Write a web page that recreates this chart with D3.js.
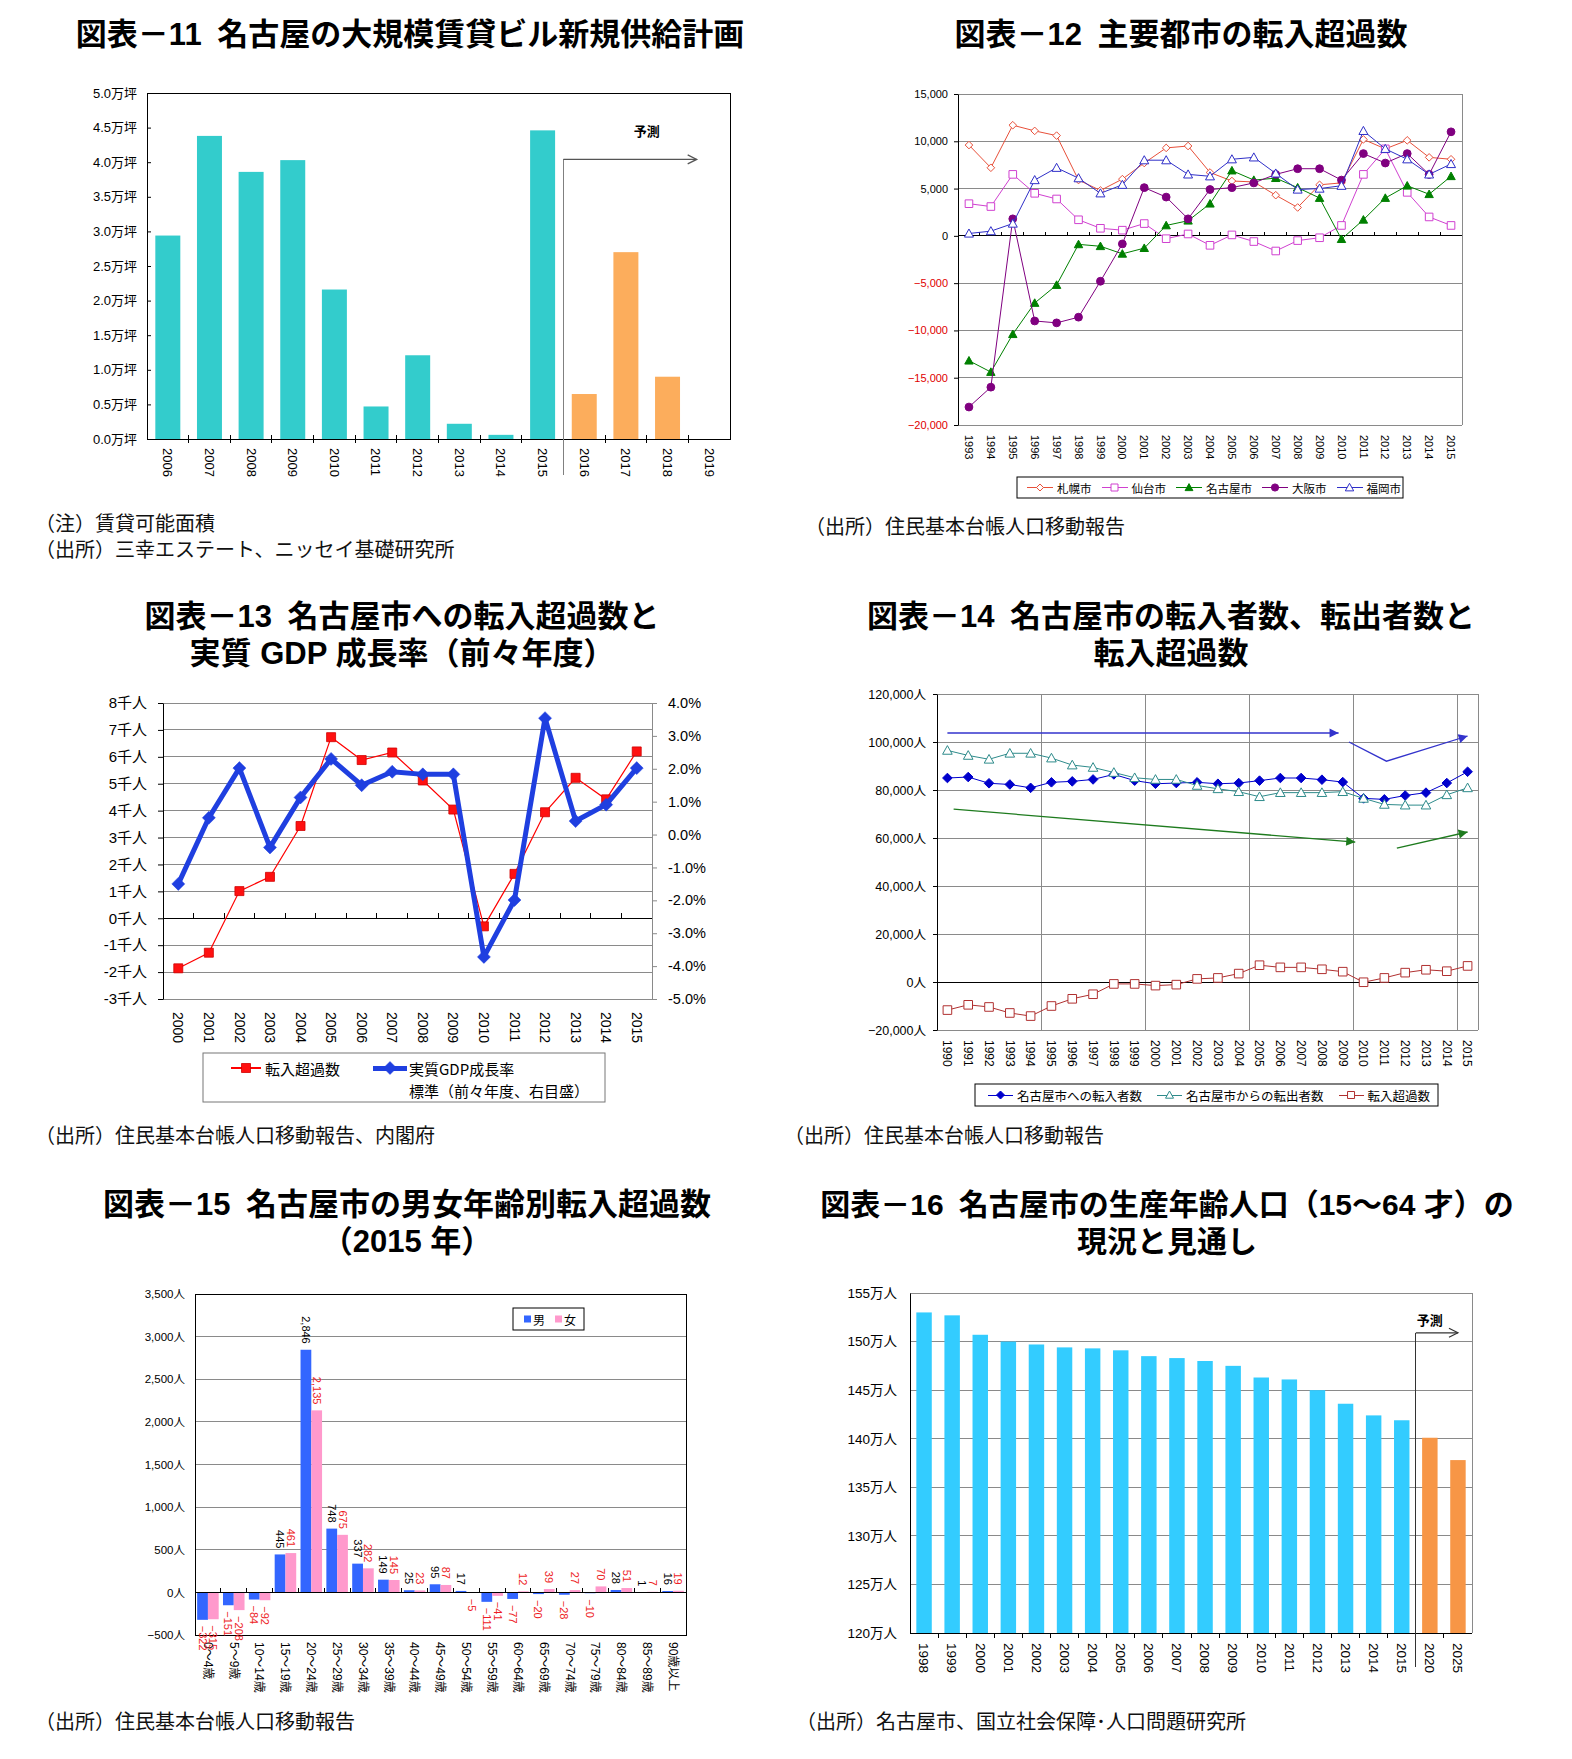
<!DOCTYPE html>
<html><head><meta charset="utf-8">
<script src="https://cdn.jsdelivr.net/npm/d3@7/dist/d3.min.js"></script>
<style>body{margin:0;background:#fff;}</style>
</head>
<body>
<svg id="chart" width="1572" height="1759" xmlns="http://www.w3.org/2000/svg"></svg>
<script>
// ================= DATA =================
// Chart 11
const c11Years = ["2006","2007","2008","2009","2010","2011","2012","2013","2014","2015","2016","2017","2018","2019"];
const c11Supply = [2.94,4.38,3.86,4.03,2.16,0.47,1.21,0.22,0.06,4.46,0.65,2.70,0.90,0];
const c11ForecastFrom = "2016";
const c11YTicks = [0,0.5,1,1.5,2,2.5,3,3.5,4,4.5,5];

// Chart 12
const c12Years = ["1993","1994","1995","1996","1997","1998","1999","2000","2001","2002","2003","2004","2005","2006","2007","2008","2009","2010","2011","2012","2013","2014","2015"];
const c12Cities = ["札幌市","仙台市","名古屋市","大阪市","福岡市"];
const c12Sapporo = [9600,7200,11700,11100,10600,5900,4800,6000,7700,9300,9500,6700,5800,5700,4300,3000,5400,5600,10200,9200,10100,8300,8100];
const c12Sendai  = [3400,3100,6500,4500,3900,1700,800,600,1300,-300,200,-1000,100,-600,-1600,-500,-200,1100,6500,9200,4600,2000,1100];
const c12Nagoya  = [-13200,-14400,-10400,-7100,-5200,-900,-1100,-1900,-1300,1100,1600,3400,6900,5900,6100,5100,4000,-350,1700,4000,5300,4400,6300];
const c12Osaka   = [-18100,-16000,1800,-9000,-9200,-8600,-4800,-850,5100,4100,1800,4900,5100,5600,6500,7100,7100,5900,8700,7700,8700,6500,11000];
const c12Fukuoka = [250,500,1300,5900,7200,6100,4500,5400,8000,8000,6500,6300,8100,8300,6600,4900,5000,5300,11100,9200,8100,6500,7600];
const c12YTicks = [-20000,-15000,-10000,-5000,0,5000,10000,15000];

// Chart 13
const c13Years = ["2000","2001","2002","2003","2004","2005","2006","2007","2008","2009","2010","2011","2012","2013","2014","2015"];
const c13Net = [-1.86,-1.28,1.01,1.54,3.43,6.73,5.88,6.16,5.12,4.04,-0.30,1.65,3.94,5.22,4.42,6.20];   // 千人
const c13Gdp = [-1.50,0.51,2.02,-0.39,1.13,2.30,1.50,1.91,1.83,1.83,-3.72,-1.99,3.54,0.41,0.91,2.02]; // %
const c13LeftTicks = [-3,-2,-1,0,1,2,3,4,5,6,7,8];
const c13RightTicks = [-5,-4,-3,-2,-1,0,1,2,3,4];
const c13Legend = ["転入超過数","実質GDP成長率","標準（前々年度、右目盛）"];

// Chart 14
const c14Years = ["1990","1991","1992","1993","1994","1995","1996","1997","1998","1999","2000","2001","2002","2003","2004","2005","2006","2007","2008","2009","2010","2011","2012","2013","2014","2015"];
const c14In  = [85000,85400,82800,82300,80900,83200,83600,84400,86500,83900,82600,82900,83200,82600,82900,83900,85000,85000,84300,83300,76500,76100,77700,78900,82900,87600];
const c14Out = [96500,94400,92800,95300,95300,93300,90400,89400,87300,85100,84400,84400,81900,80500,79300,77200,78900,78900,78900,79300,76500,74000,73700,73700,78000,80900];
const c14Net = [-11700,-9500,-10400,-12900,-14200,-10000,-7000,-5100,-800,-800,-1500,-1100,1300,1700,3500,7000,6100,6100,5300,4300,-100,1700,3900,5100,4500,6700];
const c14YTicks = [-20000,0,20000,40000,60000,80000,100000,120000];
const c14Legend = ["名古屋市への転入者数","名古屋市からの転出者数","転入超過数"];

// Chart 15
const c15Ages = ["0～4歳","5～9歳","10～14歳","15～19歳","20～24歳","25～29歳","30～34歳","35～39歳","40～44歳","45～49歳","50～54歳","55～59歳","60～64歳","65～69歳","70～74歳","75～79歳","80～84歳","85～89歳","90歳以上"];
const c15Male   = [-322,-151,-84,445,2846,748,337,149,25,95,17,-111,-77,-20,-28,-10,28,1,16];
const c15Female = [-315,-208,-92,461,2135,675,282,145,23,87,-5,-41,12,39,27,70,51,7,19];
const c15YTicks = [-500,0,500,1000,1500,2000,2500,3000,3500];
const c15Legend = ["男","女"];

// Chart 16
const c16Years = ["1998","1999","2000","2001","2002","2003","2004","2005","2006","2007","2008","2009","2010","2011","2012","2013","2014","2015","2020","2025"];
const c16Pop = [153.0,152.7,150.7,150.0,149.7,149.4,149.3,149.1,148.5,148.3,148.0,147.5,146.3,146.1,145.0,143.6,142.4,141.9,140.1,137.8];
const c16ForecastFrom = "2020";
const c16YTicks = [120,125,130,135,140,145,150,155];

// ================= DRAW =================
const svg = d3.select("#chart");
svg.append("rect").attr("width",1572).attr("height",1759).attr("fill","#fff");
const LAT = '"Liberation Sans", Arial, "Noto Sans CJK JP", sans-serif';
const JP = '"Noto Sans CJK JP", "Liberation Sans", sans-serif';
const GRID = "#8a8a8a";

function txt(g, x, y, s, o={}) {
  const t = g.append("text").attr("x",x).attr("y",y).text(s)
    .attr("font-family", o.ff||LAT).attr("font-size", o.fs||12)
    .attr("fill", o.fill||"#000").attr("text-anchor", o.anchor||"start")
    .attr("dominant-baseline", "central");
  if (o.weight) t.attr("font-weight", o.weight);
  if (o.rot) t.attr("transform", `rotate(${o.rot},${x},${y})`);
  return t;
}
function hline(g,x1,x2,y,stroke,w){ return g.append("line").attr("x1",x1).attr("x2",x2).attr("y1",y).attr("y2",y).attr("stroke",stroke).attr("stroke-width",w||1).attr("shape-rendering","crispEdges"); }
function vline(g,x,y1,y2,stroke,w){ return g.append("line").attr("x1",x).attr("x2",x).attr("y1",y1).attr("y2",y2).attr("stroke",stroke).attr("stroke-width",w||1).attr("shape-rendering","crispEdges"); }
function marker(g, type, x, y, r, stroke, fill, sw) {
  if (type==="circle") { g.append("circle").attr("cx",x).attr("cy",y).attr("r",r).attr("fill",fill).attr("stroke",stroke).attr("stroke-width",sw||1); return; }
  let p;
  if (type==="diamond") p = `M${x},${y-r}L${x+r},${y}L${x},${y+r}L${x-r},${y}Z`;
  else if (type==="square") p = `M${x-r},${y-r}h${2*r}v${2*r}h${-2*r}Z`;
  else p = `M${x},${y-r}L${x+r},${y+r*0.8}L${x-r},${y+r*0.8}Z`;
  g.append("path").attr("d",p).attr("fill",fill).attr("stroke",stroke).attr("stroke-width",sw||1);
}
function arrow(g, pts, color, w, head) {
  g.append("path").attr("d", d3.line()(pts)).attr("fill","none").attr("stroke",color).attr("stroke-width",w);
  const [x1,y1]=pts[pts.length-2], [x2,y2]=pts[pts.length-1];
  const a=Math.atan2(y2-y1,x2-x1), L=9, W=4.5;
  const p1=[x2-L*Math.cos(a)+W*Math.sin(a), y2-L*Math.sin(a)-W*Math.cos(a)];
  const p2=[x2-L*Math.cos(a)-W*Math.sin(a), y2-L*Math.sin(a)+W*Math.cos(a)];
  if (head==="fill") g.append("path").attr("d",`M${x2},${y2}L${p1}L${p2}Z`).attr("fill",color);
  else g.append("path").attr("d",`M${p1}L${x2},${y2}L${p2}`).attr("fill","none").attr("stroke",color).attr("stroke-width",w);
}
function styleAxis(a, fs, fill) {
  a.attr("font-family", LAT).attr("font-size", fs);
  a.selectAll("text").attr("font-family", LAT).attr("font-size", fs);
  if (fill) a.selectAll("text").attr("fill", fill);
  return a;
}
function rotXLabels(g, x, B, off, fs) {
  const ax = g.append("g").attr("transform",`translate(0,${B})`).call(d3.axisBottom(x).tickSize(0).tickPadding(0));
  ax.select(".domain").remove();
  styleAxis(ax, fs);
  ax.selectAll("text").attr("transform","rotate(90)").attr("x",off).attr("y",0).attr("dy","0.35em").attr("text-anchor","start");
  return ax;
}
function title(lines, cx, ys, fs) {
  lines.forEach((s,i)=>txt(svg,cx,ys[i],s,{fs:fs||31,weight:"bold",anchor:"middle",ff:LAT}));
}
function note(x, y, s) { txt(svg, x, y, s, {fs:20, ff:JP, fill:"#111"}); }

// ---------- Titles & notes ----------
const SP = "\u2002";
title(["図表－11"+SP+"名古屋の大規模賃貸ビル新規供給計画"], 410, [34]);
title(["図表－12"+SP+"主要都市の転入超過数"], 1181, [34]);
title(["図表－13"+SP+"名古屋市への転入超過数と","実質 GDP 成長率（前々年度）"], 402, [616,653]);
title(["図表－14"+SP+"名古屋市の転入者数、転出者数と","転入超過数"], 1171, [616,653]);
title(["図表－15"+SP+"名古屋市の男女年齢別転入超過数","（2015 年）"], 407, [1204,1241]);
title(["図表－16"+SP+"名古屋市の生産年齢人口（15～64 才）の","現況と見通し"], 1167, [1204,1241], 30);
note(35, 522, "（注）賃貸可能面積");
note(35, 548, "（出所）三幸エステート、ニッセイ基礎研究所");
note(805, 525, "（出所）住民基本台帳人口移動報告");
note(35, 1134, "（出所）住民基本台帳人口移動報告、内閣府");
note(784, 1134, "（出所）住民基本台帳人口移動報告");
note(35, 1720, "（出所）住民基本台帳人口移動報告");
note(796, 1720, "（出所）名古屋市、国立社会保障･人口問題研究所");

// ---------- Chart 11 ----------
(function(){
  const L=147,R=730,T=93,B=439;
  const g=svg.append("g");
  const x=d3.scaleBand().domain(c11Years).range([L,R]);
  const y=d3.scaleLinear().domain([0,5]).range([B,T]);
  const bw=x.bandwidth()*0.6;
  const fi=c11Years.indexOf(c11ForecastFrom);
  g.selectAll("rect.bar").data(c11Supply).join("rect").attr("class","bar")
    .attr("x",(d,i)=>x(c11Years[i])+(x.bandwidth()-bw)/2).attr("width",bw)
    .attr("y",d=>y(d)).attr("height",d=>B-y(d))
    .attr("fill",(d,i)=> i>=fi ? "#fcad5c" : "#33cccc");
  g.append("rect").attr("x",L).attr("y",T).attr("width",R-L).attr("height",B-T).attr("fill","none").attr("stroke","#000").attr("shape-rendering","crispEdges");
  const ay=g.append("g").attr("transform",`translate(${L},0)`).call(d3.axisLeft(y).tickValues(c11YTicks).tickFormat(v=>v.toFixed(1)+"万坪").tickSizeInner(-4).tickSizeOuter(0).tickPadding(10));
  styleAxis(ay, 13);
  c11Years.slice(1).forEach(d=>vline(g,x(d),B-4,B+4,"#000"));
  rotXLabels(g, x, B, 9, 13);
  const bx=x(c11ForecastFrom), ya=y(4.04);
  vline(g,bx,ya,B+36,"#808080",1.5);
  arrow(g,[[bx,ya],[x("2019")+x.bandwidth()*0.2,ya]],"#555",1.3,"open");
  txt(g,x("2018"),y(4.45),"予測",{fs:13,weight:"bold",anchor:"middle"});
})();

// ---------- Chart 12 ----------
(function(){
  const L=958,R=1462,T=94,B=425;
  const g=svg.append("g");
  const x=d3.scaleBand().domain(c12Years).range([L,R]);
  const y=d3.scaleLinear().domain([-20000,15000]).range([B,T]);
  const cx=d=>x(d)+x.bandwidth()/2;
  c12YTicks.forEach(v=>{ if(v!==0) hline(g,L,R,y(v),GRID); });
  vline(g,R,T,B,GRID);
  hline(g,L,R,y(0),"#000");
  c12Years.slice(1).forEach(d=>vline(g,x(d),y(0)-4,y(0),"#000"));
  const ay=g.append("g").attr("transform",`translate(${L},0)`).call(d3.axisLeft(y).tickValues(c12YTicks).tickFormat(d3.format(",")).tickSizeInner(4).tickSizeOuter(0).tickPadding(6));
  styleAxis(ay, 11);
  ay.selectAll("text").attr("fill",d=>d<0?"#e00000":"#000");
  rotXLabels(g, x, B, 10, 11);
  const series=[
    {v:c12Sapporo,c:"#e8503a",m:"diamond",r:3.8,fill:"#fff"},
    {v:c12Sendai,c:"#d040d0",m:"square",r:3.8,fill:"#fff"},
    {v:c12Nagoya,c:"#008000",m:"triangle",r:4.2,fill:"#008000"},
    {v:c12Osaka,c:"#800080",m:"circle",r:3.9,fill:"#800080"},
    {v:c12Fukuoka,c:"#2f2fc8",m:"triangle",r:4.5,fill:"#fff"}
  ];
  series.forEach(s=>{
    g.append("path").attr("d",d3.line().x((d,i)=>cx(c12Years[i])).y(d=>y(d))(s.v)).attr("fill","none").attr("stroke",s.c).attr("stroke-width",1);
    s.v.forEach((d,i)=>marker(g,s.m,cx(c12Years[i]),y(d),s.r,s.c,s.fill));
  });
  const lg=svg.append("g");
  lg.append("rect").attr("x",1017).attr("y",477).attr("width",386).attr("height",21).attr("fill","#fff").attr("stroke","#000");
  let sx=1027; const ly=487.5;
  series.forEach((s,i)=>{
    hline(lg,sx,sx+26,ly,s.c);
    marker(lg,s.m,sx+13,ly,s.r-0.3,s.c,s.fill);
    const t=txt(lg,sx+30,ly,c12Cities[i],{fs:11.5,ff:JP});
    sx += 30 + t.node().getComputedTextLength() + 10;
  });
})();

// ---------- Chart 13 ----------
(function(){
  const L=163,R=652,T=703,B=999;
  const g=svg.append("g");
  const x=d3.scaleBand().domain(c13Years).range([L,R]);
  const yL=d3.scaleLinear().domain([-3,8]).range([B,T]);
  const yR=d3.scaleLinear().domain([-5,4]).range([B,T]);
  const cx=d=>x(d)+x.bandwidth()/2;
  c13LeftTicks.forEach(v=>{ if(v!==0) hline(g,L,R,yL(v),GRID); });
  vline(g,R,T,B,GRID);
  hline(g,L,R,yL(0),"#000");
  c13Years.slice(1).forEach(d=>vline(g,x(d),yL(0)-5,yL(0),"#000"));
  const ay=g.append("g").attr("transform",`translate(${L},0)`).call(d3.axisLeft(yL).tickValues(c13LeftTicks).tickFormat(v=>v+"千人").tickSizeInner(5).tickSizeOuter(0).tickPadding(11));
  styleAxis(ay, 15);
  const ar=g.append("g").attr("transform",`translate(${R},0)`).call(d3.axisRight(yR).tickValues(c13RightTicks).tickFormat(v=>v.toFixed(1)+"%").tickSizeInner(5).tickSizeOuter(0).tickPadding(11));
  styleAxis(ar, 14.5);
  ar.select(".domain").attr("stroke",GRID);
  ar.selectAll(".tick line").attr("stroke",GRID);
  rotXLabels(g, x, B, 13, 14);
  g.append("path").attr("d",d3.line().x((d,i)=>cx(c13Years[i])).y(d=>yL(d))(c13Net)).attr("fill","none").attr("stroke","#ff0000").attr("stroke-width",1.2);
  c13Net.forEach((d,i)=>marker(g,"square",cx(c13Years[i]),yL(d),4.5,"#d00000","#ff1010",0.8));
  g.append("path").attr("d",d3.line().x((d,i)=>cx(c13Years[i])).y(d=>yR(d))(c13Gdp)).attr("fill","none").attr("stroke","#1f3fe0").attr("stroke-width",5).attr("stroke-linejoin","round");
  c13Gdp.forEach((d,i)=>marker(g,"diamond",cx(c13Years[i]),yR(d),6.5,"#1f3fe0","#1f3fe0",0.5));
  const lg=svg.append("g");
  lg.append("rect").attr("x",203).attr("y",1053).attr("width",402).attr("height",49).attr("fill","#fff").attr("stroke","#777");
  hline(lg,231,261,1068,"#ff0000",1.2);
  marker(lg,"square",246,1068,4.5,"#d00000","#ff1010",0.8);
  txt(lg,265,1068,c13Legend[0],{fs:15,ff:JP});
  hline(lg,373,407,1068,"#1f3fe0",5);
  marker(lg,"diamond",390,1068,6.5,"#1f3fe0","#1f3fe0",0.5);
  txt(lg,409,1068,c13Legend[1],{fs:15,ff:JP});
  txt(lg,409,1090,c13Legend[2],{fs:15,ff:JP});
})();

// ---------- Chart 14 ----------
(function(){
  const L=937,R=1478,T=694,B=1030;
  const g=svg.append("g");
  const x=d3.scaleBand().domain(c14Years).range([L,R]);
  const y=d3.scaleLinear().domain([-20000,120000]).range([B,T]);
  const cx=d=>x(d)+x.bandwidth()/2;
  const xf=d3.scaleLinear().domain([+c14Years[0],+c14Years[c14Years.length-1]]).range([cx(c14Years[0]),cx(c14Years[c14Years.length-1])]);
  c14YTicks.forEach(v=>{ if(v!==0) hline(g,L,R,y(v),GRID); });
  c14Years.forEach((d,i)=>{ if(i>0 && i%5===0) vline(g,x(d),T,B,GRID); });
  vline(g,R,T,B,GRID);
  hline(g,L,R,y(0),"#000");
  const ay=g.append("g").attr("transform",`translate(${L},0)`).call(d3.axisLeft(y).tickValues(c14YTicks).tickFormat(v=>d3.format(",")(v)+"人").tickSizeInner(4).tickSizeOuter(0).tickPadding(7));
  styleAxis(ay, 12.5);
  rotXLabels(g, x, B, 10, 12);
  arrow(g,[[xf(1990),y(103750)],[xf(2008.8),y(103750)]],"#3333cc",1.3,"fill");
  arrow(g,[[xf(2009.3),y(100000)],[xf(2011.1),y(92000)],[xf(2015),y(102500)]],"#3333cc",1.3,"fill");
  arrow(g,[[xf(1990.3),y(72000)],[xf(2009.6),y(58300)]],"#1e7b1e",1.3,"fill");
  arrow(g,[[xf(2011.6),y(55800)],[xf(2015),y(62500)]],"#1e7b1e",1.3,"fill");
  const series=[
    {v:c14In,c:"#0000cc",m:"diamond",r:4.8,fill:"#0000cc"},
    {v:c14Out,c:"#2e8b8b",m:"triangle",r:4.8,fill:"#fff"},
    {v:c14Net,c:"#b03030",m:"square",r:4.3,fill:"#fff"}
  ];
  series.forEach(s=>{
    g.append("path").attr("d",d3.line().x((d,i)=>cx(c14Years[i])).y(d=>y(d))(s.v)).attr("fill","none").attr("stroke",s.c).attr("stroke-width",1);
    s.v.forEach((d,i)=>marker(g,s.m,cx(c14Years[i]),y(d),s.r,s.c,s.fill));
  });
  const lg=svg.append("g");
  lg.append("rect").attr("x",975).attr("y",1084).attr("width",463).attr("height",22).attr("fill","#fff").attr("stroke","#000");
  let sx=988; const ly=1095;
  series.forEach((s,i)=>{
    hline(lg,sx,sx+25,ly,s.c);
    marker(lg,s.m,sx+12.5,ly,s.r-0.8,s.c,s.fill);
    const t=txt(lg,sx+29,ly,c14Legend[i],{fs:12.5,ff:JP});
    sx += 29 + t.node().getComputedTextLength() + 15;
  });
})();

// ---------- Chart 15 ----------
(function(){
  const L=195,R=686,T=1294,B=1635;
  const g=svg.append("g");
  const x=d3.scaleBand().domain(c15Ages).range([L,R]);
  const sub=d3.scaleBand().domain(c15Legend).range([0,x.bandwidth()]).paddingInner(0).paddingOuter(0.2);
  const y=d3.scaleLinear().domain([-500,3500]).range([B,T]);
  c15YTicks.forEach(v=>{ if(v!==0) hline(g,L,R,y(v),GRID); });
  const cols={"男":"#3366ff","女":"#ff99cc"};
  const sets=[{k:"男",v:c15Male},{k:"女",v:c15Female}];
  sets.forEach(s=>{
    g.selectAll(null).data(s.v).join("rect")
      .attr("x",(d,i)=>x(c15Ages[i])+sub(s.k)).attr("width",sub.bandwidth())
      .attr("y",d=>y(Math.max(0,d))).attr("height",d=>Math.abs(y(d)-y(0)))
      .attr("fill",cols[s.k]);
  });
  hline(g,L,R,y(0),"#000");
  c15Ages.slice(1).forEach(d=>vline(g,x(d),y(0)-4,y(0),"#000"));
  g.append("rect").attr("x",L).attr("y",T).attr("width",R-L).attr("height",B-T).attr("fill","none").attr("stroke","#000").attr("shape-rendering","crispEdges");
  const ay=g.append("g").attr("transform",`translate(${L},0)`).call(d3.axisLeft(y).tickValues(c15YTicks).tickFormat(v=>d3.format(",")(v)+"人").tickSize(0).tickPadding(10));
  ay.select(".domain").remove();
  styleAxis(ay, 11.5);
  rotXLabels(g, x, B, 7, 12);
  sets.forEach(s=>{
    s.v.forEach((d,i)=>{
      const px=x(c15Ages[i])+sub(s.k)+sub.bandwidth()/2;
      const color = s.k==="女" ? "#ee1c25" : (d<0 ? "#ee1c25" : "#000");
      if (d>=0) txt(g,px,y(d)-6,d3.format(",")(d),{fs:11,anchor:"end",rot:90,fill:color});
      else txt(g,px,y(d)+6,d3.format(",")(d),{fs:11,anchor:"start",rot:90,fill:color});
    });
  });
  const lg=svg.append("g");
  lg.append("rect").attr("x",513).attr("y",1308).attr("width",71).attr("height",22).attr("fill","#fff").attr("stroke","#000");
  let sx=524;
  c15Legend.forEach(k=>{
    lg.append("rect").attr("x",sx).attr("y",1315.5).attr("width",7).attr("height",7).attr("fill",cols[k]);
    const t=txt(lg,sx+9,1319,k,{fs:12,ff:JP});
    sx += 9 + t.node().getComputedTextLength() + 10;
  });
})();

// ---------- Chart 16 ----------
(function(){
  const L=910,R=1472,T=1293,B=1633;
  const g=svg.append("g");
  const x=d3.scaleBand().domain(c16Years).range([L,R]);
  const y=d3.scaleLinear().domain([120,155]).range([B,T]);
  const cx=d=>x(d)+x.bandwidth()/2;
  c16YTicks.forEach(v=>{ if(v!==120) hline(g,L,R,y(v),GRID); });
  vline(g,R,T,B,GRID);
  const bw=x.bandwidth()*0.55;
  const fi=c16Years.indexOf(c16ForecastFrom);
  g.selectAll("rect.bar").data(c16Pop).join("rect").attr("class","bar")
    .attr("x",(d,i)=>x(c16Years[i])+(x.bandwidth()-bw)/2).attr("width",bw)
    .attr("y",d=>y(d)).attr("height",d=>B-y(d))
    .attr("fill",(d,i)=> i>=fi ? "#f79646" : "#33ccff");
  hline(g,L,R,B,"#000");
  c16Years.slice(1).forEach(d=>vline(g,x(d),B,B+5,"#000"));
  const ay=g.append("g").attr("transform",`translate(${L},0)`).call(d3.axisLeft(y).tickValues(c16YTicks).tickFormat(v=>v+"万人").tickSizeInner(0).tickSizeOuter(0).tickPadding(13));
  ay.select(".domain").attr("stroke","#000");
  styleAxis(ay, 13.5);
  rotXLabels(g, x, B, 10, 13.5);
  const bx=x(c16ForecastFrom), ya=y(150.9);
  vline(g,bx,ya,B+34,"#333",1);
  arrow(g,[[bx,ya],[cx("2025"),ya]],"#333",1.2,"open");
  txt(g,cx("2020"),y(152.2),"予測",{fs:13,weight:"bold",anchor:"middle"});
})();
</script>
</body></html>
